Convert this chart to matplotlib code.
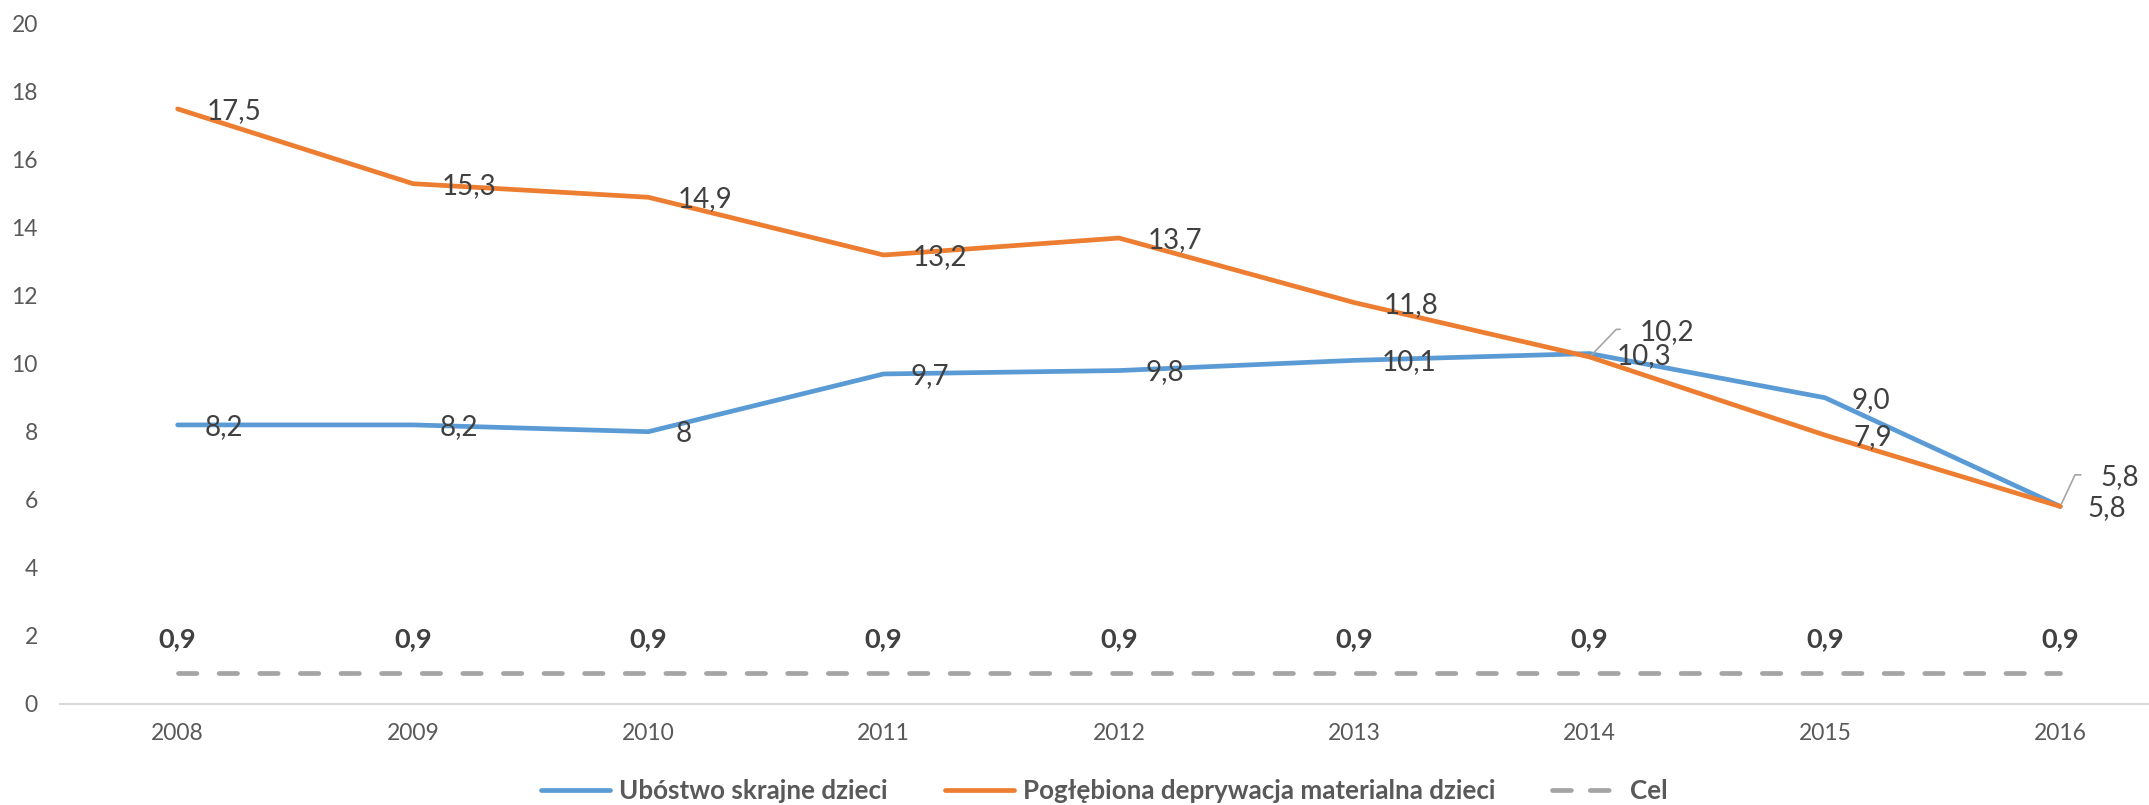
import matplotlib
matplotlib.use("Agg")
import matplotlib.pyplot as plt
from matplotlib.lines import Line2D

plt.rcParams['font.family'] = ['Lato', 'DejaVu Sans']

years = ['2008', '2009', '2010', '2011', '2012', '2013', '2014', '2015', '2016']
ubostwo = [8.2, 8.2, 8.0, 9.7, 9.8, 10.1, 10.3, 9.0, 5.8]
ubostwo_labels = ['8,2', '8,2', '8', '9,7', '9,8', '10,1', '10,3', '9,0', '5,8']
deprywacja = [17.5, 15.3, 14.9, 13.2, 13.7, 11.8, 10.2, 7.9, 5.8]
deprywacja_labels = ['17,5', '15,3', '14,9', '13,2', '13,7', '11,8', '10,2', '7,9', '5,8']
cel = [0.9] * 9
cel_labels = ['0,9'] * 9

BLUE = '#5B9BD5'
ORANGE = '#ED7D31'
GRAY = '#A5A5A5'
TXT = '#404040'
TICK = '#595959'

fig = plt.figure(figsize=(21.49, 8.05), dpi=100)
ax = fig.add_axes([60 / 2149, 101.5 / 805, 1 - 60 / 2149, 679.5 / 805])

x = list(range(len(years)))
lw = 3.4
ax.plot(x, ubostwo, color=BLUE, lw=lw, solid_joinstyle='round', solid_capstyle='round', zorder=3)
ax.plot(x, deprywacja, color=ORANGE, lw=lw, solid_joinstyle='round', solid_capstyle='round', zorder=3)
ax.plot(x, cel, color=GRAY, lw=lw, dashes=(3.9, 4.7), dash_capstyle='round', zorder=2)

ax.set_xlim(-0.5, 8.377)
ax.set_ylim(0, 20)
ax.set_yticks(range(0, 21, 2))
ax.set_xticks(x)
ax.set_xticklabels(years)
ax.tick_params(axis='both', length=0, labelsize=16.5, labelcolor=TICK)
ax.tick_params(axis='y', pad=16)
ax.tick_params(axis='x', pad=14)
for s in ['top', 'right', 'left']:
    ax.spines[s].set_visible(False)
ax.spines['bottom'].set_color('#D9D9D9')
ax.spines['bottom'].set_linewidth(1.5)

lab_fs = 20
for i in range(len(years)):
    # blue labels to the right of the point
    ax.annotate(ubostwo_labels[i], (x[i], ubostwo[i]), xytext=(27, -2),
                textcoords='offset pixels', ha='left', va='center',
                fontsize=lab_fs, color=TXT, zorder=5)
    ax.annotate(cel_labels[i], (x[i], cel[i]), xytext=(0, 34),
                textcoords='offset pixels', ha='center', va='center',
                fontsize=19.5, fontweight='bold', color=TXT, zorder=5)

for i in range(len(years)):
    if years[i] == '2014':
        ax.annotate(deprywacja_labels[i], (x[i], deprywacja[i]), xytext=(50, 25),
                    textcoords='offset pixels', ha='left', va='center',
                    fontsize=lab_fs, color=TXT, zorder=5,
                    arrowprops=dict(arrowstyle='-', color=GRAY, lw=1.2,
                                    connectionstyle='angle,angleA=0,angleB=46',
                                    relpos=(0, 0.6), shrinkA=12, shrinkB=2))
    elif years[i] == '2016':
        ax.annotate(deprywacja_labels[i], (x[i], deprywacja[i]), xytext=(40, 29),
                    textcoords='offset pixels', ha='left', va='center',
                    fontsize=lab_fs, color=TXT, zorder=5,
                    arrowprops=dict(arrowstyle='-', color=GRAY, lw=1.2,
                                    connectionstyle='angle,angleA=0,angleB=65',
                                    relpos=(0, 0.6), shrinkA=12, shrinkB=2))
    else:
        ax.annotate(deprywacja_labels[i], (x[i], deprywacja[i]), xytext=(29, -2),
                    textcoords='offset pixels', ha='left', va='center',
                    fontsize=lab_fs, color=TXT, zorder=5)

handles = [
    Line2D([], [], color=BLUE, lw=lw, solid_capstyle='round'),
    Line2D([], [], color=ORANGE, lw=lw, solid_capstyle='round'),
    Line2D([], [], color=GRAY, lw=lw, dashes=(4, 4), dash_capstyle='round'),
]
names = ['Ubóstwo skrajne dzieci', 'Pogłębiona deprywacja materialna dzieci', 'Cel']
leg = fig.legend(handles, names, loc='center', bbox_to_anchor=(0.514, 1 - 791 / 805),
                 ncol=3, frameon=False, handlelength=2.65, handletextpad=0.35,
                 columnspacing=2.2, prop={'size': 18.7, 'weight': 'bold'})
for t in leg.get_texts():
    t.set_color(TICK)

fig.savefig('out.png', dpi=100)
